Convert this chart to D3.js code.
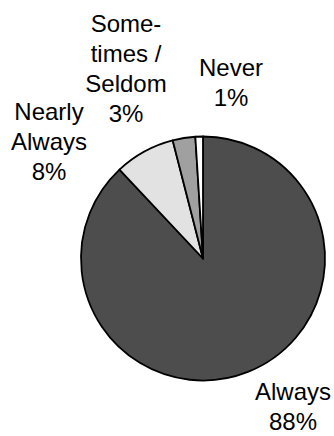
<!DOCTYPE html>
<html>
<head>
<meta charset="utf-8">
<script src="https://cdn.jsdelivr.net/npm/d3@7"></script>
<style>
  html, body { margin: 0; padding: 0; background: #fff; }
  svg { display: block; }
</style>
</head>
<body>
<svg id="chart" width="334" height="436"></svg>
<script>
// Survey response shares (percent)
const categories = ["Always", "Nearly Always", "Sometimes / Seldom", "Never"];
const values = [88, 8, 3, 1];
// Label text, broken into lines as displayed
const labelLines = [["Always"], ["Nearly", "Always"], ["Some-", "times /", "Seldom"], ["Never"]];
const sliceColors = ["#4d4d4d", "#e2e2e2", "#a0a0a0", "#ffffff"];

// Layout
const W = 334, H = 436;
const cx = 203, cy = 258.5, R = 122;
const fontSize = 24, lineGap = 30;
// Label anchor: centre x, first baseline y
const labelAnchors = [[293, 400], [49, 120], [126, 32], [231, 76]];

const svg = d3.select("#chart");

const data = categories.map((c, i) => ({ category: c, value: values[i], color: sliceColors[i], lines: labelLines[i], anchor: labelAnchors[i] }));

const pie = d3.pie().sort(null).value(d => d.value).startAngle(0).endAngle(2 * Math.PI);
const arc = d3.arc().innerRadius(0).outerRadius(R);

const g = svg.append("g").attr("transform", `translate(${cx},${cy})`);

g.selectAll("path.slice")
  .data(pie(data))
  .join("path")
  .attr("class", "slice")
  .attr("d", arc)
  .attr("fill", d => d.data.color)
  .attr("stroke", "#000")
  .attr("stroke-width", 1.8)
  .attr("stroke-linejoin", "round");

const labels = svg.selectAll("text.lbl")
  .data(data)
  .join("text")
  .attr("class", "lbl")
  .attr("text-anchor", "middle")
  .attr("font-family", "'Liberation Sans', Arial, sans-serif")
  .attr("font-size", fontSize)
  .attr("fill", "#000");

labels.each(function(d) {
  const t = d3.select(this);
  const lines = d.lines.concat([d.value + "%"]);
  lines.forEach((ln, k) => {
    t.append("tspan")
      .attr("x", d.anchor[0])
      .attr("y", d.anchor[1] + k * lineGap)
      .text(ln);
  });
});
</script>
</body>
</html>
